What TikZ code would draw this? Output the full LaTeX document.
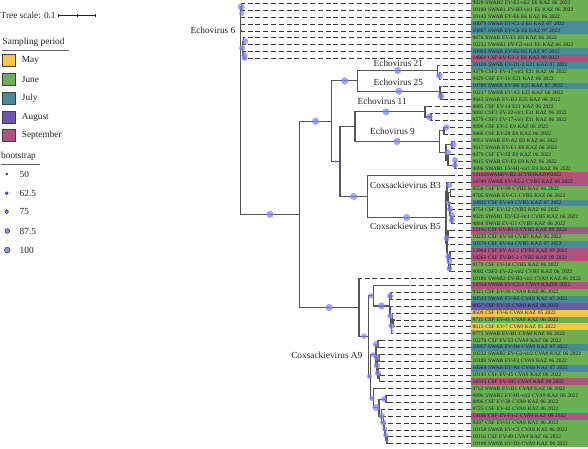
\documentclass[tikz,border=0pt]{standalone}
\usepackage{fontspec}
\setmainfont{Liberation Serif}
\usetikzlibrary{calc}
\definecolor{cMay}{RGB}{249,199,72}
\definecolor{cJun}{RGB}{108,176,84}
\definecolor{cJul}{RGB}{74,140,150}
\definecolor{cAug}{RGB}{108,88,178}
\definecolor{cSep}{RGB}{176,82,126}
\definecolor{cBr}{RGB}{85,85,85}
\definecolor{cDash}{RGB}{55,55,55}
\definecolor{cBs}{RGB}{128,128,245}
\definecolor{cLegBs}{RGB}{150,150,235}
\definecolor{cTxt}{RGB}{35,35,35}

\newcommand\leafrow[4]{%
  \pgfmathsetmacro\rowy{3.5+(#1-1)*6.88}%
  \node[leaf,fill=#3] (L#1) at (471,\rowy) {#4};%
  \coordinate (t#1) at (#2,\rowy);%
  \draw[leafdash] (L#1.west) -- (t#1);%
}
\newcommand\inode[4]{%
  \path ($(#3)!.5!(#4)$) coordinate (tmp);%
  \coordinate (#1) at (#2,0 |- tmp);%
  \draw[branch] (#1) |- (#3);%
  \draw[branch] (#1) |- (#4);%
}
\newcommand\bsc[3]{\fill[bs] (#1,#2) circle ({1.2*#3});}

\begin{document}
\begin{tikzpicture}[x=1pt,y=-1pt,
  branch/.style={draw=cBr,line width=1.1pt},
  leafdash/.style={draw=cDash,line width=0.9pt,dash pattern=on 5pt off 2.8pt},
  leaf/.style={anchor=west,minimum height=6.95pt,text width=114pt,inner xsep=1.5pt,inner ysep=0pt,
    text height=3.8pt,text depth=1pt,font=\fontsize{5.4}{6}\selectfont,align=left,text=black!90},
  clade/.style={font=\fontsize{9.3}{11}\selectfont,text=cTxt,inner sep=0pt},
  legtxt/.style={font=\fontsize{9.3}{11}\selectfont,text=cTxt,inner sep=0pt,anchor=west},
  swatch/.style={draw=black!75,line width=0.7pt,minimum width=12.3pt,minimum height=12pt,inner sep=0pt},
  bs/.style={fill=cBs,fill opacity=0.72},
  legbs/.style={fill=cLegBs,draw={rgb,255:red,50;green,50;blue,80},line width=0.6pt}]
\useasboundingbox (0,0) rectangle (588,449);

% ---------- legend ----------
\node[legtxt] (ts) at (0.5,15.7) {Tree scale: 0.1};
\coordinate (sb1) at (58.3,15.7);
\coordinate (sb2) at (95.7,15.7);
\draw[line width=0.6pt,cTxt] (sb1) -- (sb2);
\draw[line width=0.6pt,cTxt] ($(sb1)+(0,-1.8)$) -- ($(sb1)+(0,1.8)$);
\draw[line width=0.6pt,cTxt] ($(sb2)+(0,-1.8)$) -- ($(sb2)+(0,1.8)$);
\draw[line width=0.6pt,cTxt] ($(sb1)!.5!(sb2)+(0,-1.2)$) -- ($(sb1)!.5!(sb2)+(0,1.2)$);

\node[legtxt] (sp) at (2.5,42.3) {Sampling period};
\draw[line width=0.7pt,black!60] (1.7,50) -- (69,50);
\node[swatch,fill=cMay] (sw1) at (8.8,60.7) {};
\node[swatch,fill=cJun] (sw2) at (8.8,79.45) {};
\node[swatch,fill=cJul] (sw3) at (8.8,98.2) {};
\node[swatch,fill=cAug] (sw4) at (8.8,116.95) {};
\node[swatch,fill=cSep] (sw5) at (8.8,135.7) {};
\node[legtxt] (lm1) at (21.7,60.7) {May};
\node[legtxt] (lm2) at (21.7,79.45) {June};
\node[legtxt] (lm3) at (21.7,98.2) {July};
\node[legtxt] (lm4) at (21.7,116.95) {August};
\node[legtxt] (lm5) at (21.7,135.7) {September};

\node[legtxt] (bst) at (1,156.7) {bootstrap};
\draw[line width=0.7pt,black!60] (1,164) -- (40,164);
\draw[legbs] (6.7,174) circle (1.0);
\draw[legbs] (6.7,193.3) circle (1.5);
\draw[legbs] (6.7,211.7) circle (1.9);
\draw[legbs] (7.3,231) circle (2.3);
\draw[legbs] (7.3,250) circle (2.8);
\node[legtxt] (b1) at (19.5,174) {50};
\node[legtxt] (b2) at (19.5,193.3) {62.5};
\node[legtxt] (b3) at (19.5,211.7) {75};
\node[legtxt] (b4) at (19.5,231) {87.5};
\node[legtxt] (b5) at (19.5,250) {100};

% ---------- leaves ----------
\leafrow{1}{242}{cJun}{9920 SWAB2 EV-E2-vir2 E6 KAZ 06 2022}
\leafrow{2}{243.3}{cJun}{10180 SWAB1 EV-B3-vir1 E6 KAZ 06 2022}
\leafrow{3}{241.5}{cJun}{10143 SWAB EV-E6 E6 KAZ 06 2022}
\leafrow{4}{243.3}{cJul}{10079 SWAB EV-C1-2 E6 KAZ 07 2022}
\leafrow{5}{242.3}{cJul}{10887 SWAB EV-C6 E6 KAZ 07 2022}
\leafrow{6}{245}{cJun}{9876 SWAB EV-F1 E6 KAZ 06 2022}
\leafrow{7}{244.5}{cJun}{10232 SWAB1 EV-G3-vir1 E6 KAZ 06 2022}
\leafrow{8}{244.5}{cJul}{10993 SWAB EV-E6 E6 KAZ 07 2022}
\leafrow{9}{246.7}{cSep}{14061 CSF EV-G1-2 E6 KAZ 09 2022}
\leafrow{10}{440}{cJul}{10100 SWAB EV-D1-2 E21 KAZ 07 2022}
\leafrow{11}{441}{cJun}{9379 CSF2 EV-17-vir2 E21 KAZ 06 2022}
\leafrow{12}{441}{cJun}{9429 CSF EV-16 E21 KAZ 06 2022}
\leafrow{13}{441.5}{cJul}{10790 SWAB EV-B6 E25 KAZ 07 2022}
\leafrow{14}{442.5}{cJun}{10217 SWAB EV-A3 E25 KAZ 06 2022}
\leafrow{15}{442.5}{cJun}{9943 SWAB EV-D2 E25 KAZ 06 2022}
\leafrow{16}{428}{cJun}{8885 CSF EV-14 E11 KAZ 06 2022}
\leafrow{17}{433}{cJun}{9092 CSF1 EV-22-vir1 E11 KAZ 06 2022}
\leafrow{18}{433}{cJun}{9379 CSF1 EV-17-vir1 E11 KAZ 06 2022}
\leafrow{19}{446}{cJun}{9099 CSF EV-2 E9 KAZ 06 2022}
\leafrow{20}{446}{cJun}{9466 CSF EV-28 E9 KAZ 06 2022}
\leafrow{21}{454}{cJun}{9951 SWAB EV-A2 E9 KAZ 06 2022}
\leafrow{22}{454}{cJun}{9917 SWAB EV-E1 E9 KAZ 06 2022}
\leafrow{23}{450}{cJun}{9479 CSF EV-32 E9 KAZ 06 2022}
\leafrow{24}{457}{cJun}{9915 SWAB EV-F2 E9 KAZ 06 2022}
\leafrow{25}{457}{cJun}{9896 SWAB1 EV-H1-vir1 E9 KAZ 06 2022}
\leafrow{26}{450}{cSep}{14101SWABEV-B2-2CVB3KAZ092022}
\leafrow{27}{449}{cSep}{14749 SWAB EV-A2-2 CVB5 KAZ 09 2022}
\leafrow{28}{452}{cJun}{9558 CSF EV-39 CVB5 KAZ 06 2022}
\leafrow{29}{452}{cJun}{9705 SWAB EV-C1 CVB5 KAZ 06 2022}
\leafrow{30}{451}{cJul}{10831 CSF EV-69 CVB5 KAZ 07 2022}
\leafrow{31}{452}{cJun}{8754 CSF EV-12 CVB5 KAZ 06 2022}
\leafrow{32}{453.5}{cJun}{9920 SWAB1 EV-E2-vir1 CVB5 KAZ 06 2022}
\leafrow{33}{453.5}{cJun}{9884 SWAB EV-G1 CVB5 KAZ 06 2022}
\leafrow{34}{450}{cSep}{15116 CSF EV-B1-2 CVB5 KAZ 09 2022}
\leafrow{35}{450}{cJun}{10235 CSF EV-50 CVB5 KAZ 06 2022}
\leafrow{36}{449}{cJul}{10379 CSF EV-64 CVB5 KAZ 07 2022}
\leafrow{37}{451.5}{cSep}{13964 CSF EV-A1-2 CVB5 KAZ 09 2022}
\leafrow{38}{451.5}{cSep}{14265 CSF EV-B1-2 CVB5 KAZ 09 2022}
\leafrow{39}{451.5}{cJun}{9170 CSF EV-18 CVB5 KAZ 06 2022}
\leafrow{40}{451.5}{cJun}{9092 CSF2 EV-22-vir2 CVB5 KAZ 06 2022}
\leafrow{41}{359.8}{cJun}{10180 SWAB2 EV-B3-vir2 CVA9 KAZ 06 2022}
\leafrow{42}{410}{cSep}{14354 SWAB EV-C2-2 CVA9 KAZ09 2022}
\leafrow{43}{393}{cJun}{9321 CSF EV-30 CVA9 KAZ 06 2022}
\leafrow{44}{393}{cJul}{10513 SWAB EV-B5 CVA9 KAZ 07 2022}
\leafrow{45}{392}{cAug}{9057 CSF EV-25 CVA9 KAZ 08 2022}
\leafrow{46}{394}{cMay}{8509 CSF EV-6 CVA9 KAZ 05 2022}
\leafrow{47}{395}{cJun}{9711 CSF EV-41 CVA9 KAZ 06 2022}
\leafrow{48}{395}{cMay}{8615 CSF EV-7 CVA9 KAZ 05 2022}
\leafrow{49}{393}{cJun}{9771 SWAB EV-B1 CVA9 KAZ 06 2022}
\leafrow{50}{379.5}{cJun}{10278 CSF EV-53 CVA9 KAZ 06 2022}
\leafrow{51}{379.5}{cJul}{10957 SWAB EV-D4 CVA9 KAZ 07 2022}
\leafrow{52}{380.5}{cJun}{10232 SWAB2 EV-G3-vir2 CVA9 KAZ 06 2022}
\leafrow{53}{380.5}{cJun}{10189 SWAB EV-F3 CVA9 KAZ 06 2022}
\leafrow{54}{380}{cJul}{10564 SWAB EV-A4 CVA9 KAZ 07 2022}
\leafrow{55}{381}{cJun}{10143 CSF EV-45 CVA9 KAZ 06 2022}
\leafrow{56}{381}{cSep}{14313 CSF EV-105 CVA9 KAZ 09 2022}
\leafrow{57}{386}{cJun}{9763 SWAB EV-D1 CVA9 KAZ 06 2022}
\leafrow{58}{388}{cJun}{9896 SWAB2 EV-H1-vir2 CVA9 KAZ 06 2022}
\leafrow{59}{388}{cJun}{8896 CSF EV-38 CVA9 KAZ 06 2022}
\leafrow{60}{383}{cJun}{9725 CSF EV-42 CVA9 KAZ 06 2022}
\leafrow{61}{385}{cSep}{14196 CSF EV-F1-2 CVA9 KAZ 09 2022}
\leafrow{62}{386}{cJun}{9497 CSF EV-31 CVA9 KAZ 06 2022}
\leafrow{63}{387}{cJun}{10158 SWAB EV-C3 CVA9 KAZ 06 2022}
\leafrow{64}{388.5}{cJun}{10116 CSF EV-49 CVA9 KAZ 06 2022}
\leafrow{65}{388.5}{cJun}{10108 SWAB EV-D3 CVA9 KAZ 06 2022}

% ---------- internal nodes ----------
% Echovirus 6
\inode{e1}{241.2}{t1}{t2}
\inode{e3}{243.5}{t6}{t7}
\inode{e4}{243.5}{t8}{t9}
\inode{e2}{242.5}{e3}{e4}
% Echovirus 21 / 25
\inode{ea}{439.5}{t11}{t12}
\inode{eb}{437.7}{t10}{ea}
\inode{ec}{441}{t14}{t15}
\inode{ed}{440}{t13}{ec}
\inode{ee}{357.7}{eb}{ed}
% Echovirus 11
\inode{ef}{431}{t17}{t18}
\inode{eg}{425}{t16}{ef}
% Echovirus 9
\inode{n9a}{444}{t19}{t20}
\inode{n9c}{452}{t21}{t22}
\inode{n9e}{455}{t24}{t25}
\inode{n9d}{448}{t23}{n9e}
\inode{n9b}{446}{n9c}{n9d}
\inode{n9}{439.3}{n9a}{n9b}
\inode{eh}{355}{eg}{n9}
% Coxsackievirus B5
\inode{p28}{450.5}{t28}{t29}
\inode{p1d}{452}{t32}{t33}
\inode{p1c}{450.5}{t31}{p1d}
\inode{p1b}{449.5}{t30}{p1c}
\inode{p1a}{448.5}{p28}{p1b}
\inode{p1}{447}{t27}{p1a}
\inode{p2a}{448}{t34}{t35}
\inode{p37}{450}{t37}{t38}
\inode{p39}{450}{t39}{t40}
\inode{p2c}{448.5}{p37}{p39}
\inode{p2b}{447.5}{t36}{p2c}
\inode{p2}{447}{p2a}{p2b}
\inode{r5}{446}{p1}{p2}
\inode{cvb}{367.3}{t26}{r5}
\inode{nx}{340}{eh}{cvb}
\inode{nu}{331.7}{ee}{nx}
% Coxsackievirus A9
\inode{qf}{391}{t43}{t44}
\inode{qj}{393.5}{t47}{t48}
\inode{qi}{392.5}{t46}{qj}
\inode{qh}{391.5}{qi}{t49}
\inode{qg}{390.5}{t45}{qh}
\inode{qe}{389.3}{qf}{qg}
\inode{qc}{373.3}{t42}{qe}
\inode{qk1}{378}{t50}{t51}
\inode{ql1}{379}{t52}{t53}
\inode{qm}{379.5}{t55}{t56}
\inode{ql2}{378}{t54}{qm}
\inode{qk2}{377}{ql1}{ql2}
\inode{qd1}{376}{qk1}{qk2}
\inode{qnp}{386}{t58}{t59}
\inode{qo5}{387}{t64}{t65}
\inode{qo4}{385.7}{t63}{qo5}
\inode{qo3}{384.7}{t62}{qo4}
\inode{qo2}{383.3}{t61}{qo3}
\inode{qo1}{381.7}{t60}{qo2}
\inode{qn}{379}{qnp}{qo1}
\inode{qd2}{373.3}{t57}{qn}
\inode{qd}{370.5}{qd1}{qd2}
\inode{qb}{368.7}{qc}{qd}
\inode{qa}{359}{t41}{qb}
\inode{n1}{299.3}{nu}{qa}
% root
\coordinate (rt) at (240.7,109);
\foreach \c in {e1,t3,t4,t5,e2,n1} {\draw[branch] (rt) |- (\c);}

% ---------- bootstrap circles ----------
\bsc{270}{214.34}{3}
\bsc{315.5}{121.26}{3}
\bsc{329.2}{307.42}{3}
\bsc{344.7}{80.9}{3}
\bsc{335.85}{161.61}{1.3}
\bsc{397.7}{70.58}{3}
\bsc{398.85}{91.22}{3}
\bsc{386}{111.86}{3}
\bsc{397}{141.53}{3}
\bsc{353.65}{196.52}{3}
\bsc{406.65}{217.54}{3}
\bsc{363.85}{336.15}{2.3}
\bsc{371}{295.79}{2.2}
\bsc{381.3}{306}{3}
\bsc{369.6}{376.5}{2.2}
\bsc{241.2}{6.94}{3}
\bsc{241.7}{13.5}{2.2}
\bsc{245}{41.34}{2.6}
\bsc{242.2}{48.22}{2.6}
\bsc{244.5}{55.1}{2.6}
\bsc{244.5}{58}{2.4}
\bsc{439.3}{75.74}{2.8}
\bsc{441}{96.38}{2.8}
\bsc{429.3}{117.02}{2.8}
\bsc{446.5}{127.3}{2.6}
\bsc{453.3}{144.54}{2.8}
\bsc{447.7}{152.28}{2.6}
\bsc{455}{160}{2.5}
\bsc{455}{165.18}{2.5}
\bsc{449.3}{185}{2.6}
\bsc{448.3}{203.3}{2}
\bsc{450}{209.04}{2.6}
\bsc{451.7}{215.06}{2.6}
\bsc{451.7}{220.22}{2.6}
\bsc{446.7}{238.3}{2.6}
\bsc{448.3}{256.7}{2.5}
\bsc{449.3}{261.5}{2.5}
\bsc{449.3}{268.38}{2.5}
\bsc{390.15}{295.9}{2.6}
\bsc{390.5}{316.11}{2.6}
\bsc{391.5}{326}{2.5}
\bsc{392}{331}{1.5}
\bsc{373.25}{354.81}{2.2}
\bsc{376}{344.06}{2.6}
\bsc{377}{357.82}{2.6}
\bsc{377}{365.56}{2.6}
\bsc{378}{373.3}{2.6}
\bsc{371.9}{398.19}{2.2}
\bsc{376.15}{407.6}{3}
\bsc{384}{399.1}{2.4}
\bsc{381.7}{416.09}{2.6}
\bsc{383.3}{422.75}{2.6}
\bsc{384.7}{429.2}{2.2}
\bsc{385.7}{435.22}{2.2}
\bsc{387}{440.38}{1.5}

% ---------- clade labels ----------
\node[clade,anchor=east] (c6) at (235.5,30.5) {Echovirus 6};
\node[clade,anchor=west] (c21) at (373.5,63) {Echovirus 21};
\node[clade,anchor=west] (c25) at (373.5,82.3) {Echovirus 25};
\node[clade,anchor=west] (c11) at (357.5,101) {Echovirus 11};
\node[clade,anchor=west] (c9) at (370,131.7) {Echovirus 9};
\node[clade,anchor=west] (cb3) at (370,185.7) {Coxsackievirus B3};
\node[clade,anchor=west] (cb5) at (370,226.7) {Coxsackievirus B5};
\node[clade,anchor=east] (ca9) at (362.5,355) {Coxsackievirus A9};
\end{tikzpicture}
\end{document}
